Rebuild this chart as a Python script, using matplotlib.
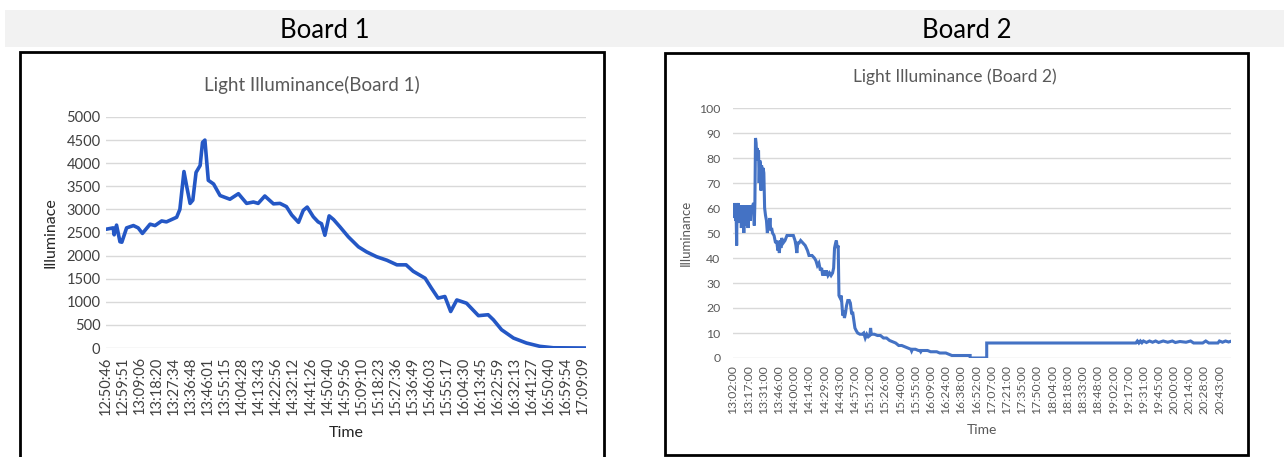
import matplotlib
matplotlib.use("Agg")
import matplotlib.pyplot as plt
from matplotlib.patches import Rectangle

plt.rcParams['font.family'] = ['Lato', 'DejaVu Sans']

# ---------------- Board 1 data (x in label-interval units) ----------------
b1_labels = ["12:50:46", "12:59:51", "13:09:06", "13:18:20", "13:27:34", "13:36:48",
             "13:46:01", "13:55:15", "14:04:28", "14:13:43", "14:22:56", "14:32:12",
             "14:41:26", "14:50:40", "14:59:56", "15:09:10", "15:18:23", "15:27:36",
             "15:36:49", "15:46:03", "15:55:17", "16:04:30", "16:13:45", "16:22:59",
             "16:32:13", "16:41:27", "16:50:40", "16:59:54", "17:09:09"]
b1_pos = [0, 0.42, 0.48, 0.62, 0.82, 0.93, 1.21, 1.61, 1.89, 2.14, 2.59, 2.88, 3.27,
          3.55, 4.15, 4.34, 4.58, 4.74, 4.94, 5.10, 5.29, 5.53, 5.67, 5.81, 6.01, 6.32,
          6.70, 7.28, 7.78, 8.26, 8.66, 8.94, 9.33, 9.84, 10.22, 10.60, 10.91, 11.31,
          11.59, 11.82, 12.18, 12.46, 12.66, 12.86, 13.11, 13.37, 13.75, 14.24, 14.83,
          15.31, 15.90, 16.50, 17.09, 17.63, 18.05, 18.75, 19.12, 19.51, 19.91, 20.25,
          20.61, 21.18, 21.88, 22.45, 22.76, 23.24, 23.94, 24.70, 25.49, 26.28, 28.2]
b1_lux = [2570, 2600, 2450, 2660, 2300, 2290, 2600, 2650, 2600, 2480, 2680, 2650, 2750,
          2730, 2830, 3000, 3820, 3500, 3130, 3200, 3800, 3950, 4450, 4500, 3630, 3550,
          3300, 3220, 3340, 3130, 3160, 3130, 3290, 3120, 3130, 3060, 2880, 2720,
          2980, 3050, 2840, 2730, 2690, 2440, 2860, 2780, 2620, 2405, 2190,
          2080, 1975, 1900, 1800, 1800, 1660, 1510, 1295, 1080, 1115, 790,
          1040, 970, 700, 720, 610, 395, 215, 108, 36, 5, 0]
b1_yticks = [0, 500, 1000, 1500, 2000, 2500, 3000, 3500, 4000, 4500, 5000]

# ---------------- Board 2 data (x in label-interval units) ----------------
b2_labels = ["13:02:00", "13:17:00", "13:31:00", "13:46:00", "14:00:00", "14:14:00",
             "14:29:00", "14:43:00", "14:57:00", "15:12:00", "15:26:00", "15:40:00",
             "15:55:00", "16:09:00", "16:24:00", "16:38:00", "16:52:00", "17:07:00",
             "17:21:00", "17:35:00", "17:50:00", "18:04:00", "18:18:00", "18:33:00",
             "18:48:00", "19:02:00", "19:17:00", "19:31:00", "19:45:00", "20:00:00",
             "20:14:00", "20:28:00", "20:43:00"]
b2_pos = [0, 0.03, 0.06, 0.1, 0.13, 0.17, 0.2, 0.24, 0.27, 0.31, 0.35, 0.39, 0.43, 0.47,
          0.51, 0.55, 0.59, 0.63, 0.67, 0.71, 0.75, 0.79, 0.83, 0.87, 0.91, 0.95, 0.99,
          1.03, 1.07, 1.11, 1.15, 1.2, 1.25, 1.3, 1.35, 1.4, 1.44,
          1.48, 1.52, 1.56, 1.6, 1.64, 1.68, 1.72, 1.76, 1.8, 1.84, 1.88, 1.93, 1.98,
          2.03, 2.08, 2.14, 2.2, 2.26, 2.32, 2.38, 2.43, 2.48, 2.54, 2.6, 2.7, 2.8,
          2.87, 2.95, 3.0, 3.05, 3.1, 3.15, 3.2, 3.3, 3.42, 3.55, 3.7, 3.85, 3.97,
          4.08, 4.14, 4.2, 4.26, 4.35, 4.45, 4.6, 4.75, 4.9, 5.0, 5.2, 5.35, 5.45,
          5.55, 5.65, 5.75, 5.83, 5.9, 5.97, 6.05, 6.15, 6.25, 6.35, 6.45, 6.55,
          6.62, 6.68, 6.75, 6.8, 6.86, 6.92, 6.97, 7.05, 7.12, 7.18, 7.22, 7.28,
          7.33, 7.4, 7.47, 7.55, 7.65, 7.72, 7.8, 7.88, 7.95, 8.02, 8.1, 8.2, 8.35,
          8.5, 8.6, 8.7, 8.8, 8.9, 9.0, 9.05, 9.1, 9.3, 9.5, 9.7, 9.9, 10.1, 10.3,
          10.5, 10.7, 10.9, 11.1, 11.3, 11.5, 11.7, 11.75, 11.8, 12.0, 12.2, 12.3,
          12.35, 12.4, 12.8, 13.0, 13.4, 13.6, 14.0, 14.4, 14.9, 15.6, 15.6, 16.69,
          16.69, 26.5, 26.6, 26.7, 26.8, 26.9, 27.0, 27.2, 27.4, 27.6, 27.8, 28.0,
          28.3, 28.6, 28.9, 29.1, 29.4, 29.8, 30.1, 30.3, 30.6, 30.9, 31.1, 31.3,
          31.6, 31.9, 32.0, 32.2, 32.4, 32.6, 32.76]
b2_lux = [59, 56, 61, 57, 62, 55, 60, 45, 61, 58, 62, 54, 60, 56,
          61, 52, 59, 55, 61, 50, 58, 60, 53, 61, 57, 60, 52,
          61, 58, 61, 55, 61, 60, 61, 62, 53, 62,
          88, 86, 80, 84, 79, 83, 70, 79, 78, 67, 77, 75, 76,
          74, 60, 57, 55, 50, 53, 52, 56, 51, 52, 50, 49, 46,
          47, 43, 45, 42, 47, 44, 48, 46, 47, 49, 49, 49, 49,
          47, 45, 42, 46, 46, 47, 46, 45, 43, 41, 41, 40, 39,
          37, 38, 35, 36, 33, 35, 33, 35, 33, 34, 33, 34,
          36, 44, 46, 47, 44, 45, 25, 24, 25, 20, 17, 19,
          16, 18, 21, 23, 23, 22, 18, 18, 15, 12, 11, 10, 9.5,
          9.5, 10, 8, 9.5, 8.5, 9, 12, 9.5, 9.5, 9, 9, 8, 8, 7,
          6.5, 6, 5, 5, 4.5, 4, 3.5, 2.8, 3.5, 3.5, 3, 3,
          2.5, 3, 3, 2.5, 2.5, 2, 2, 1, 1, 1, 0, 0,
          6, 6, 6.8, 6, 6.8, 6.1, 6.8, 6.2, 6.8, 6.3, 6.8, 6.2,
          6.8, 6.3, 6.8, 6.2, 6.6, 6.3, 6.8, 6.0, 6.0, 6.0, 6.8, 6.0,
          6.0, 6.0, 6.8, 6.3, 6.8, 6.4, 6.7]
b2_yticks = [0, 10, 20, 30, 40, 50, 60, 70, 80, 90, 100]

W, H = 1284, 457
fig = plt.figure(figsize=(W / 100, H / 100), dpi=100)
fig.patch.set_facecolor('white')


def fx(px):
    return px / W


def fy(py):
    return 1 - py / H


# header band with panel captions
fig.patches.append(Rectangle((fx(5), fy(47)), fx(W) - fx(5), (47 - 10) / H,
                             transform=fig.transFigure, facecolor='#f2f2f2',
                             edgecolor='none', zorder=0))
fig.text(fx(325), fy(30), "Board 1", ha='center', va='center', fontsize=18.5, color='black')
fig.text(fx(967), fy(30), "Board 2", ha='center', va='center', fontsize=18.5, color='black')

# panel frames
fig.patches.append(Rectangle((fx(20), fy(470)), (604 - 20) / W, (470 - 52) / H,
                             transform=fig.transFigure, facecolor='none',
                             edgecolor='black', linewidth=2, zorder=1))
fig.patches.append(Rectangle((fx(665), fy(455)), (1248 - 665) / W, (455 - 53) / H,
                             transform=fig.transFigure, facecolor='none',
                             edgecolor='black', linewidth=2, zorder=1))

grid_col = '#d9d9d9'

# ---------------- Board 1 chart ----------------
ax1 = fig.add_axes([fx(106), fy(348), (586 - 106) / W, (348 - 117) / H])
ax1.plot(b1_pos, b1_lux, color='#2457c5', linewidth=2.6, solid_joinstyle='round',
         solid_capstyle='round', zorder=3)
ax1.set_xlim(0, 28.2)
ax1.set_ylim(0, 5000)
ax1.set_yticks(b1_yticks)
ax1.set_xticks(range(len(b1_labels)))
ax1.set_xticklabels(b1_labels, rotation=90, fontsize=10.5, color='#404040')
ax1.tick_params(axis='y', labelsize=10.5, colors='#404040', length=0, pad=4)
ax1.tick_params(axis='x', length=0, pad=6)
ax1.grid(axis='y', color=grid_col, linewidth=1)
ax1.set_axisbelow(True)
for s in ax1.spines.values():
    s.set_visible(False)
ax1.set_ylabel("Illuminace", fontsize=11.5, color='#262626', labelpad=6)
ax1.set_xlabel("Time", fontsize=11.5, color='#262626', labelpad=8)
fig.text(fx(312), fy(85), "Light Illuminance(Board 1)", ha='center', va='center',
         fontsize=13.5, color='#595959')

# ---------------- Board 2 chart ----------------
ax2 = fig.add_axes([fx(733), fy(358), (1231 - 733) / W, (358 - 108) / H])
ax2.plot(b2_pos, b2_lux, color='#4472c4', linewidth=2.2, solid_joinstyle='miter', zorder=3)
ax2.set_xlim(0, 32.76)
ax2.set_ylim(0, 100)
ax2.set_yticks(b2_yticks)
ax2.set_xticks(range(len(b2_labels)))
ax2.set_xticklabels(b2_labels, rotation=90, fontsize=8.8, color='#595959')
ax2.tick_params(axis='y', labelsize=8.8, colors='#595959', length=0, pad=9)
ax2.tick_params(axis='x', length=0, pad=5)
ax2.grid(axis='y', color=grid_col, linewidth=1)
ax2.set_axisbelow(True)
for s in ax2.spines.values():
    s.set_visible(False)
ax2.set_ylabel("Illuminance", fontsize=9.5, color='#595959', labelpad=5)
ax2.set_xlabel("Time", fontsize=10, color='#595959', labelpad=7)
fig.text(fx(955), fy(77), "Light Illuminance (Board 2)", ha='center', va='center',
         fontsize=12.5, color='#595959')

fig.savefig("out.png", dpi=100)
